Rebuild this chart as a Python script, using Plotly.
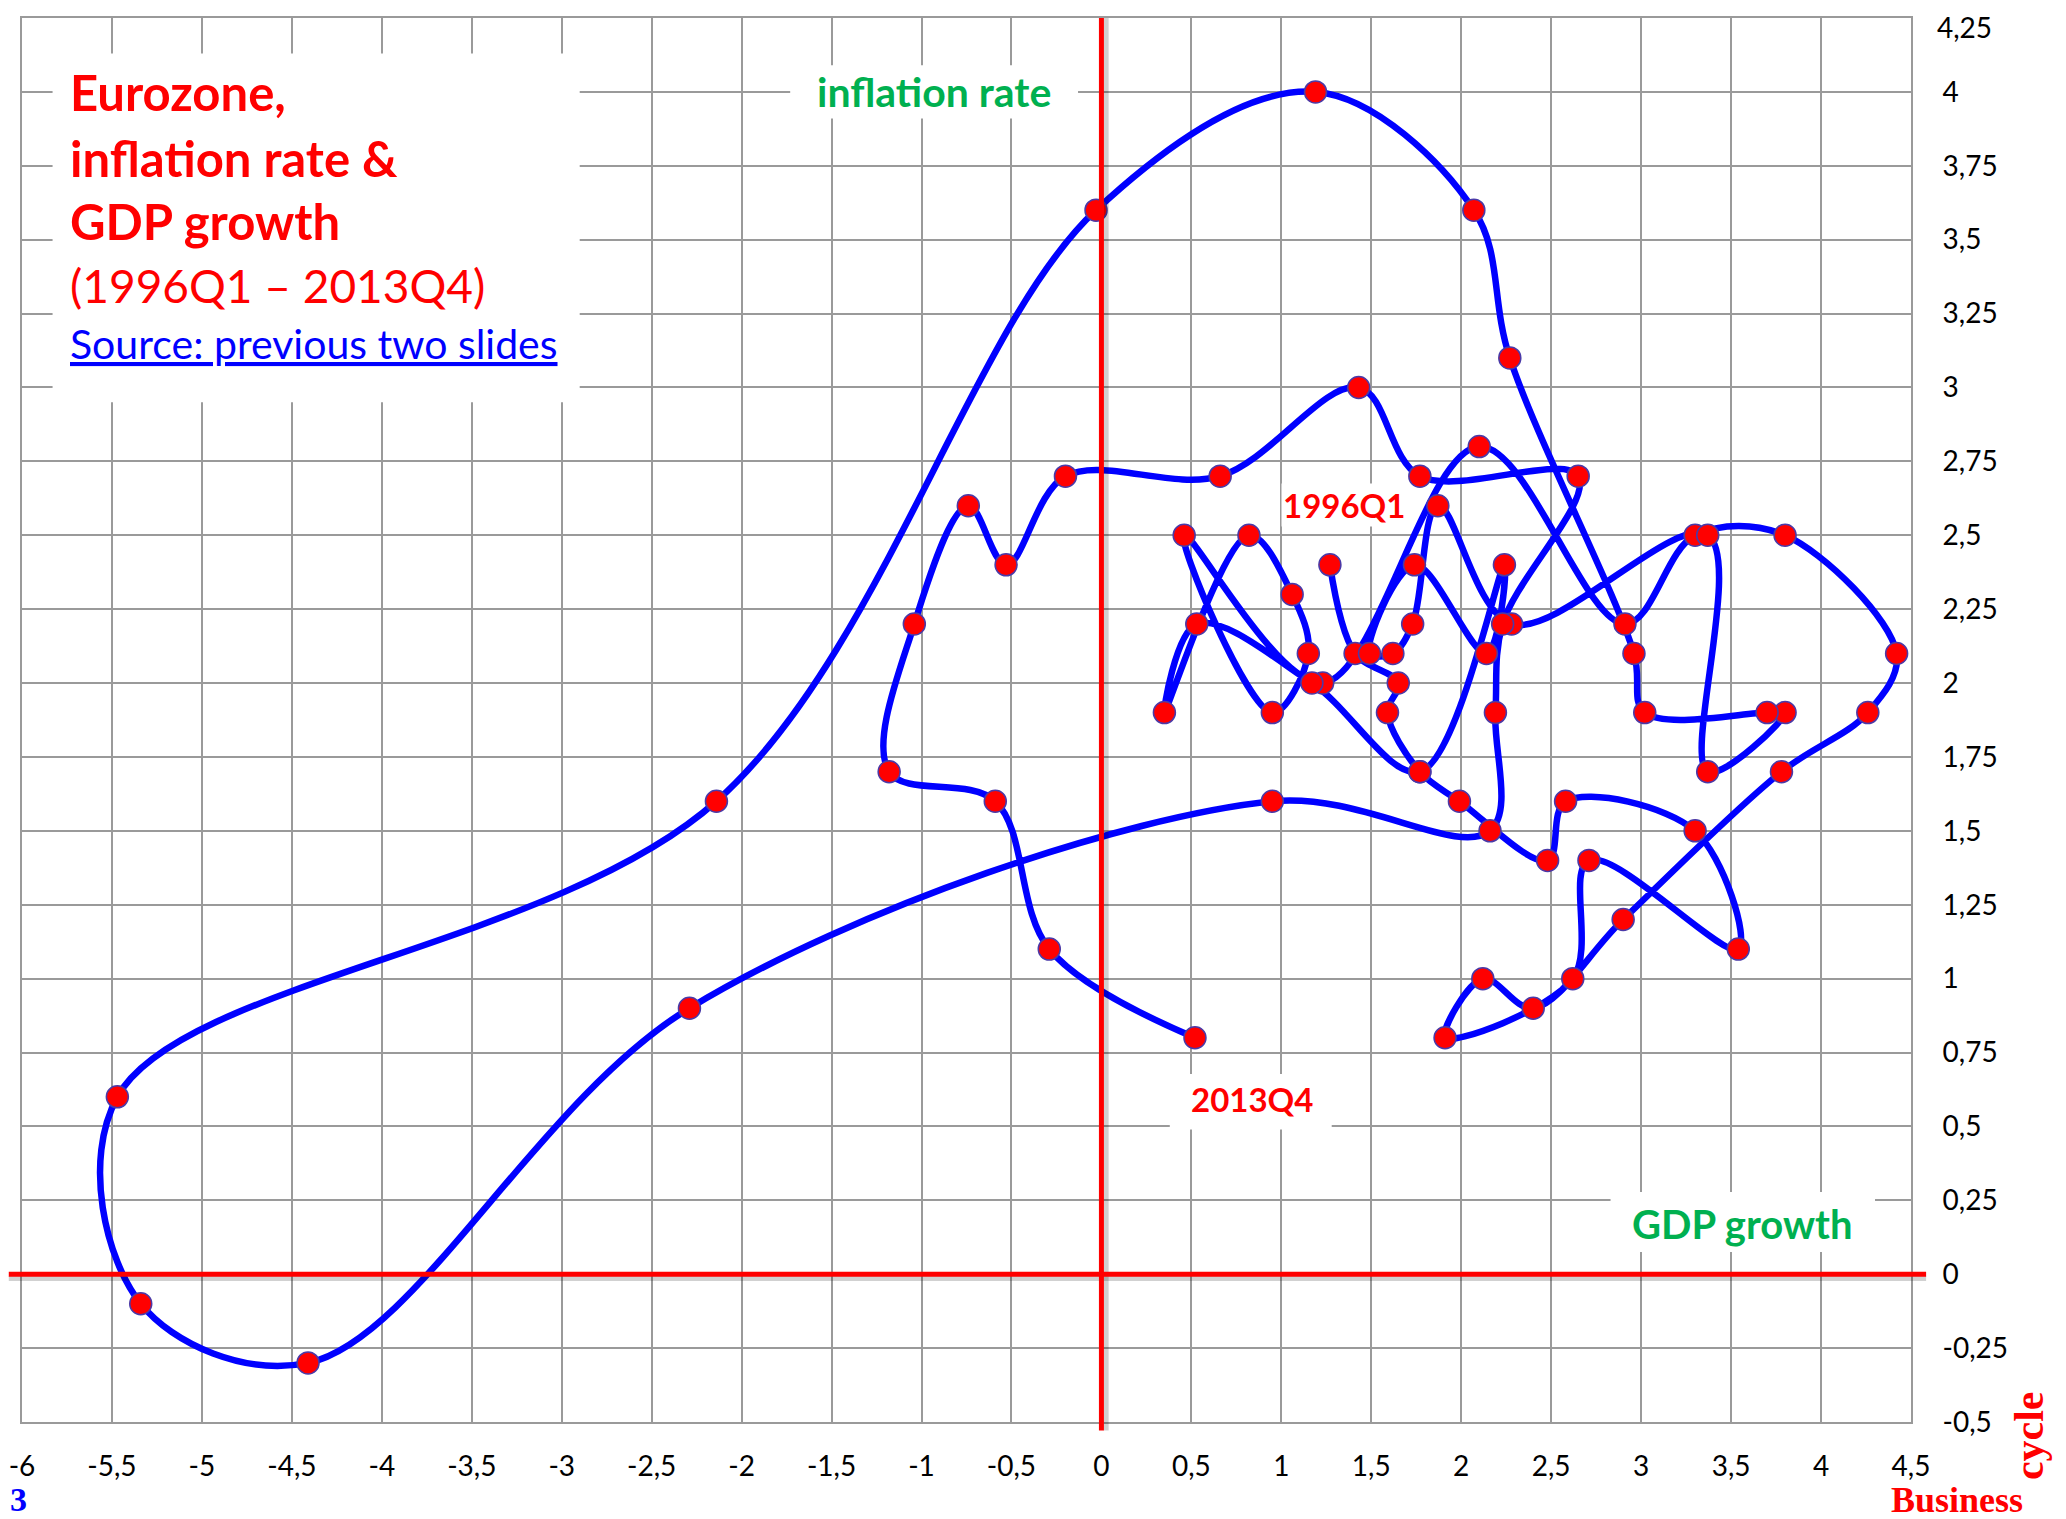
import plotly.graph_objects as go

# Quarters, 1996Q1 .. 2013Q4
quarters = [
    "1996Q1", "1996Q2", "1996Q3", "1996Q4", "1997Q1", "1997Q2", "1997Q3", "1997Q4",
    "1998Q1", "1998Q2", "1998Q3", "1998Q4", "1999Q1", "1999Q2", "1999Q3", "1999Q4",
    "2000Q1", "2000Q2", "2000Q3", "2000Q4", "2001Q1", "2001Q2", "2001Q3", "2001Q4",
    "2002Q1", "2002Q2", "2002Q3", "2002Q4", "2003Q1", "2003Q2", "2003Q3", "2003Q4",
    "2004Q1", "2004Q2", "2004Q3", "2004Q4", "2005Q1", "2005Q2", "2005Q3", "2005Q4",
    "2006Q1", "2006Q2", "2006Q3", "2006Q4", "2007Q1", "2007Q2", "2007Q3", "2007Q4",
    "2008Q1", "2008Q2", "2008Q3", "2008Q4", "2009Q1", "2009Q2", "2009Q3", "2009Q4",
    "2010Q1", "2010Q2", "2010Q3", "2010Q4", "2011Q1", "2011Q2", "2011Q3", "2011Q4",
    "2012Q1", "2012Q2", "2012Q3", "2012Q4", "2013Q1", "2013Q2", "2013Q3", "2013Q4",
]

# GDP growth (x) per quarter
gdp_growth = [
    1.27, 1.41, 1.65, 1.59, 1.77, 1.99, 2.48, 2.58,
    3.30, 3.54, 2.71, 2.62, 1.91, 2.12, 2.40, 2.90,
    3.78, 4.26, 4.42, 3.80, 3.30, 2.91, 2.10, 1.23,
    0.46, 0.95, 1.15, 1.06, 0.82, 0.35, 0.53, 1.17,
    1.77, 2.24, 2.14, 1.74, 1.49, 1.62, 1.73, 1.87,
    2.28, 3.37, 3.37, 3.80, 3.70, 3.02, 2.96, 2.27,
    2.07, 1.19, -0.03, -2.14, -5.47, -5.34, -4.41, -2.29,
    0.95, 2.16, 2.19, 2.23, 2.65, 1.77, 1.43, 0.66,
    -0.20, -0.53, -0.74, -1.04, -1.18, -0.59, -0.29, 0.52,
]

# Inflation rate (y) per quarter
inflation = [
    2.4, 2.1, 2.0, 1.9, 1.7, 1.6, 1.4, 1.6,
    1.5, 1.1, 1.4, 1.0, 0.8, 1.0, 0.9, 1.2,
    1.7, 1.9, 2.1, 2.5, 2.5, 2.2, 2.8, 2.0,
    2.5, 1.9, 2.1, 2.3, 2.5, 1.9, 2.2, 2.0,
    1.7, 2.4, 2.1, 2.4, 2.1, 2.1, 2.2, 2.6,
    2.2, 2.5, 1.7, 1.9, 1.9, 1.9, 2.1, 3.1,
    3.6, 4.0, 3.6, 1.6, 0.6, -0.1, -0.3, 0.9,
    1.6, 1.5, 1.9, 2.2, 2.7, 2.7, 3.0, 2.7,
    2.7, 2.4, 2.6, 2.2, 1.7, 1.6, 1.1, 0.8,
]

x_tickvals = [-6, -5.5, -5, -4.5, -4, -3.5, -3, -2.5, -2, -1.5, -1, -0.5, 0,
              0.5, 1, 1.5, 2, 2.5, 3, 3.5, 4, 4.5]
x_ticktext = ["-6", "-5,5", "-5", "-4,5", "-4", "-3,5", "-3", "-2,5", "-2", "-1,5", "-1",
              "-0,5", "0", "0,5", "1", "1,5", "2", "2,5", "3", "3,5", "4", "4,5"]
y_tickvals = [-0.5, -0.25, 0, 0.25, 0.5, 0.75, 1, 1.25, 1.5, 1.75, 2, 2.25, 2.5,
              2.75, 3, 3.25, 3.5, 3.75, 4, 4.25]
y_ticktext = ["-0,5", "-0,25", "0", "0,25", "0,5", "0,75", "1", "1,25", "1,5", "1,75",
              "2", "2,25", "2,5", "2,75", "3", "3,25", "3,5", "3,75", "4", "4,25"]

FONT = "Lato"
GRID = "#9a9a9a"
RED = "#ff0000"
GREEN = "#00b050"
TICK_SIZE = 28

fig = go.Figure()

fig.add_trace(go.Scatter(
    x=gdp_growth, y=inflation, text=quarters,
    mode="lines+markers",
    line=dict(color="#0000ff", width=6.5, shape="spline", smoothing=1.0),
    marker=dict(size=22, color=RED, line=dict(color="#4a3aa8", width=1.5)),
    hovertemplate="%{text}<br>GDP %{x}<br>Infl. %{y}<extra></extra>",
    showlegend=False,
))

shapes = []
# white boxes that interrupt the grid (drawn between grid and traces)
for (x0, x1, y0, y1) in [(-5.83, -2.90, 2.95, 4.13),
                         (-1.73, -0.13, 3.91, 4.09),
                         (2.83, 4.30, 0.075, 0.278),
                         (0.38, 1.28, 0.49, 0.677)]:
    shapes.append(dict(type="rect", xref="x", yref="y", x0=x0, x1=x1, y0=y0, y1=y1,
                       fillcolor="white", line=dict(width=0), layer="between"))

# red axes (paper coordinates so that they can overshoot the frame slightly)
px0 = 6 / 10.5          # x = 0
py0 = 0.5 / 4.75        # y = 0
shapes += [
    dict(type="line", xref="paper", yref="paper", x0=px0 + 0.0025, x1=px0 + 0.0025,
         y0=-0.006, y1=1.0, line=dict(color="rgba(0,0,0,0.18)", width=5), layer="above"),
    dict(type="line", xref="paper", yref="paper", x0=-0.007, x1=1.008,
         y0=py0 - 0.003, y1=py0 - 0.003, line=dict(color="rgba(0,0,0,0.18)", width=5),
         layer="above"),
    dict(type="line", xref="paper", yref="paper", x0=px0, x1=px0, y0=-0.006, y1=1.0,
         line=dict(color=RED, width=5), layer="above"),
    dict(type="line", xref="paper", yref="paper", x0=-0.007, x1=1.008, y0=py0, y1=py0,
         line=dict(color=RED, width=5), layer="above"),
]

annotations = []
def ann(text, x, y, size, color, bold=False, xanchor="left", family=FONT, **kw):
    annotations.append(dict(
        text=("<b>%s</b>" % text) if bold else text, x=x, y=y, xref="paper", yref="paper",
        xanchor=xanchor, yanchor=kw.pop("yanchor", "middle"), showarrow=False,
        font=dict(family=family, size=size, color=color), **kw))

# title block
tx = 0.0245
ann("Eurozone,", tx, 0.9473, 49, RED, bold=True)
ann("inflation rate &", tx, 0.9003, 49, RED, bold=True)
ann("GDP growth", tx, 0.8554, 49, RED, bold=True)
ann("(1996Q1 \u2013 2013Q4)", tx, 0.8098, 46, RED)
ann("<u>Source: previous two slides</u>", tx, 0.7685, 41, "#0000ff")

# axis labels
ann("inflation rate", 0.4828, 0.948, 41, GREEN, bold=True, xanchor="center")
ann("GDP growth", 0.9105, 0.141, 40, GREEN, bold=True, xanchor="center")

# period labels
ann("2013Q4", 0.6511, 0.2301, 33, RED, bold=True, xanchor="center")
ann("1996Q1", 0.6998, 0.6531, 33, RED, bold=True, xanchor="center",
    bgcolor="white")

# top y tick label (kept inside the figure instead of overflowing its top edge)
ann(y_ticktext[-1], 1.0, 1.0, TICK_SIZE, "black", xshift=24, yshift=10, yanchor="top")

# corner texts
ann("3", -0.0074, -0.0555, 34, "#0000ff", bold=True, family="Liberation Serif")
ann("Business", 0.9885, -0.0555, 36, RED, bold=True, family="Liberation Serif")
annotations.append(dict(
    text="<b>cycle</b>", x=1.0625, y=-0.010, xref="paper", yref="paper",
    xanchor="center", yanchor="middle", showarrow=False, textangle=-90,
    font=dict(family="Liberation Serif", size=42, color=RED)))

# the page body adds an 8 px offset, so the figure is 8 px smaller than the window
fig.update_layout(
    width=2058, height=1511,
    margin=dict(l=14, r=155, t=10, b=97),
    paper_bgcolor="white", plot_bgcolor="white",
    font=dict(family=FONT, size=TICK_SIZE, color="black"),
    shapes=shapes, annotations=annotations,
    xaxis=dict(range=[-6, 4.5], tickvals=x_tickvals, ticktext=x_ticktext,
               showgrid=True, gridcolor=GRID, gridwidth=2, zeroline=False,
               showline=True, mirror=True, linecolor=GRID, linewidth=2,
               ticks="", ticklabelstandoff=18, automargin=False,
               ticklabeloverflow="allow",
               tickfont=dict(family=FONT, size=TICK_SIZE, color="black")),
    yaxis=dict(range=[-0.5, 4.25], tickvals=y_tickvals,
               ticktext=y_ticktext[:-1] + [""],
               side="right",
               showgrid=True, gridcolor=GRID, gridwidth=2, zeroline=False,
               showline=True, mirror=True, linecolor=GRID, linewidth=2,
               ticks="", ticklabelstandoff=24, automargin=False,
               ticklabeloverflow="allow",
               tickfont=dict(family=FONT, size=TICK_SIZE, color="black")),
)

fig.write_html("out.html")
